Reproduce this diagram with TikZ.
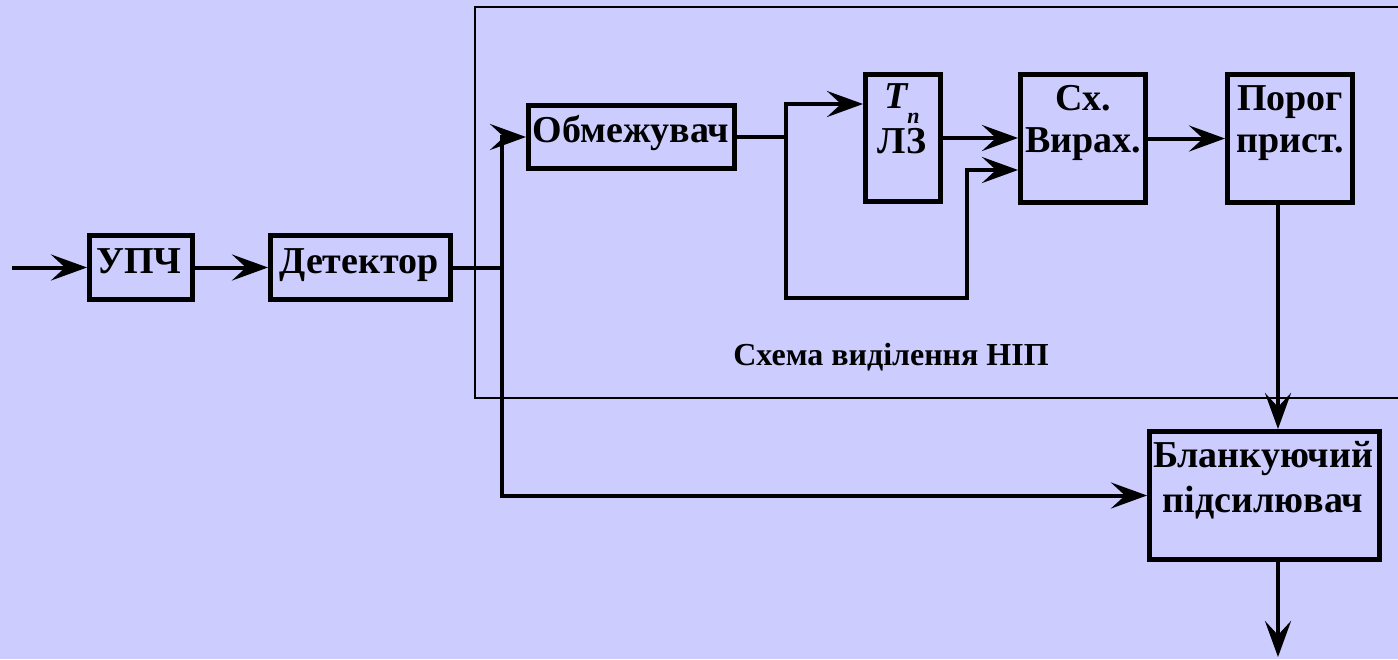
\documentclass[tikz,border=0pt]{standalone}
\usepackage{fontspec}
\setmainfont{Liberation Serif}
\usetikzlibrary{arrows.meta}
\definecolor{bg}{RGB}{204,204,255}
\begin{document}
\begin{tikzpicture}[x=1pt,y=-1pt,
  blk/.style={draw, line width=5pt, inner sep=0pt},
  txt/.style={font=\fontsize{38}{42}\selectfont\bfseries, inner sep=0pt, anchor=base},
  small/.style={font=\fontsize{32}{36}\selectfont\bfseries, inner sep=0pt, anchor=base},
  con/.style={line width=4pt},
  arr/.style={con, -{Stealth[length=36pt,width=26pt,inset=14pt]}},
  frame/.style={line width=2pt}]
\fill[bg] (0,0) rectangle (1398,659);
\useasboundingbox (0,0) rectangle (1398,659);
% frame
\draw[frame] (1400,7) -- (475,7) -- (475,398) -- (1400,398);
% boxes
\node[blk, minimum width=103pt, minimum height=64pt] (upch) at (141,267.5) {};
\node[blk, minimum width=180pt, minimum height=64pt] (det) at (360.5,267.5) {};
\node[blk, minimum width=206pt, minimum height=63pt] (obm) at (631.5,137) {};
\node[blk, minimum width=75pt, minimum height=127pt] (lz) at (903,138) {};
\node[blk, minimum width=125pt, minimum height=128pt] (sx) at (1083,138.5) {};
\node[blk, minimum width=125pt, minimum height=128pt] (por) at (1290,138.5) {};
\node[blk, minimum width=230pt, minimum height=128pt] (blank) at (1264.5,495.5) {};
% texts
\node[txt] (tupch) at (139,273) {УПЧ};
\node[txt] (tdet) at (359,273) {Детектор};
\node[txt] (tobm) at (631,142) {Обмежувач};
\node[txt, align=center, anchor=north] (tlz) at (902,83)
  {{\itshape T\raisebox{-15pt}{\fontsize{22}{24}\selectfont п}}\\[3pt]ЛЗ};
\node[txt] (tsx1) at (1083,110) {Сх.};
\node[txt] (tsx2) at (1083,152) {Вирах.};
\node[txt] (tpor1) at (1290,110) {Порог};
\node[txt] (tpor2) at (1290,152) {прист.};
\node[txt] (tbl1) at (1263,467) {Бланкуючий};
\node[txt] (tbl2) at (1263,512) {підсилювач};
\node[small] (tframe) at (891,365) {Схема виділення НІП};
% coordinates
\coordinate (in) at (12,267.5);
\coordinate (j1) at (502,267.5);
\coordinate (s1) at (786,137);
\coordinate (s1t) at (786,104);
\coordinate (s1b) at (786,298);
\coordinate (s2) at (967,298);
\coordinate (c170) at (0,170);
\coordinate (out) at (1278,657);
% connectors
\draw[arr] (in) -- (upch.west);
\draw[arr] (upch.east) -- (det.west);
\draw[con] (det.east) -- (j1);
\draw[arr] (j1) |- (obm.west);
\draw[arr] (j1) |- (blank.west);
\draw[con] (obm.east) -- (s1);
\draw[arr] (s1) |- (lz.west |- s1t);
\draw[arr] (s1) -- (s1b) -- (s2) |- (sx.west |- c170);
\draw[arr] (lz.east) -- (lz.east -| sx.west);
\draw[arr] (sx.east) -- (sx.east -| por.west);
\draw[arr] (por.south -| out) -- (blank.north -| out);
\draw[arr] (blank.south -| out) -- (out);
\end{tikzpicture}
\end{document}
